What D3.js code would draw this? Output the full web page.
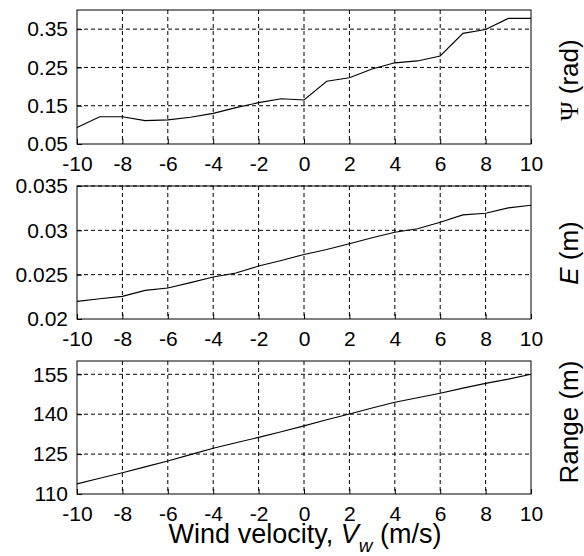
<!DOCTYPE html>
<html>
<head>
<meta charset="utf-8">
<script src="https://cdn.jsdelivr.net/npm/d3@7"></script>
<style>
  html, body { margin: 0; padding: 0; background: #fff; }
  svg { display: block; }
  text { font-family: "Liberation Sans", Arial, sans-serif; fill: #000; }
</style>
</head>
<body>
<svg id="chart" width="584" height="556"></svg>
<script>
// ---- data ----
const windVelocity = [-10,-9,-8,-7,-6,-5,-4,-3,-2,-1,0,1,2,3,4,5,6,7,8,9,10];
const psiValues = [0.093,0.121,0.121,0.111,0.113,0.120,0.130,0.145,0.158,0.168,0.165,0.214,0.223,0.246,0.262,0.267,0.280,0.339,0.349,0.378,0.378];
const eValues = [0.02199,0.02229,0.02255,0.02323,0.02349,0.02410,0.02473,0.02518,0.02597,0.02660,0.02728,0.02784,0.02848,0.02916,0.02979,0.03017,0.03091,0.03174,0.03193,0.03253,0.03283];
const rangeValues = [113.8,115.9,118.0,120.2,122.4,124.8,127.2,129.3,131.3,133.4,135.6,137.9,140.1,142.3,144.5,146.2,147.9,149.8,151.6,153.2,155.0];
const xTicks = [-10,-8,-6,-4,-2,0,2,4,6,8,10];
const psiTicks = [0.05,0.15,0.25,0.35];
const psiTickLabels = ["0.05","0.15","0.25","0.35"];
const eTicks = [0.02,0.025,0.03,0.035];
const eTickLabels = ["0.02","0.025","0.03","0.035"];
const rangeTicks = [110,125,140,155];
const rangeTickLabels = ["110","125","140","155"];

const svg = d3.select("#chart");
const left = 77, right = 531;
const x = d3.scaleLinear().domain([-10,10]).range([left,right]);

const panels = [
  {values: psiValues, domain:[0.05,0.40], top:10, bottom:144, ticks:psiTicks, labels:psiTickLabels, title:"psi", cy:80},
  {values: eValues, domain:[0.02,0.035], top:186, bottom:319, ticks:eTicks, labels:eTickLabels, title:"E", cy:253},
  {values: rangeValues, domain:[110,160], top:361, bottom:494, ticks:rangeTicks, labels:rangeTickLabels, title:"Range", cy:422}
];

panels.forEach(p => {
  const y = d3.scaleLinear().domain(p.domain).range([p.bottom, p.top]);
  const g = svg.append("g");

  // grid
  g.selectAll(".vg").data(xTicks.slice(1,-1)).enter().append("line")
    .attr("x1", d => x(d)).attr("x2", d => x(d))
    .attr("y1", p.top).attr("y2", p.bottom)
    .attr("stroke","#000").attr("stroke-width",1).attr("stroke-dasharray","4,3");
  g.selectAll(".hg").data(p.ticks.slice(1)).enter().append("line")
    .attr("x1", left).attr("x2", right)
    .attr("y1", d => y(d)).attr("y2", d => y(d))
    .attr("stroke","#000").attr("stroke-width",1).attr("stroke-dasharray","4,3");

  // axes
  const ax = g.append("g").attr("transform",`translate(0,${p.bottom})`)
    .call(d3.axisBottom(x).tickValues(xTicks).tickSize(-5).tickPadding(12).tickFormat(d => d3.format("d")(d).replace("−","-")));
  const ay = g.append("g").attr("transform",`translate(${left},0)`)
    .call(d3.axisLeft(y).tickValues(p.ticks).tickSize(-5).tickPadding(9).tickFormat((d,i) => p.labels[i]));
  [ax, ay].forEach(a => {
    a.select(".domain").remove();
    a.selectAll("line").attr("stroke","#000");
    a.selectAll("text").attr("font-size",21).attr("font-family",'"Liberation Sans", Arial, sans-serif').attr("fill","#000");
  });

  // box
  g.append("rect").attr("x",left).attr("y",p.top).attr("width",right-left).attr("height",p.bottom-p.top)
    .attr("fill","none").attr("stroke","#000").attr("stroke-width",1);

  // line
  const line = d3.line().x((d,i) => x(windVelocity[i])).y(d => y(d));
  g.append("path").datum(p.values).attr("d", line)
    .attr("fill","none").attr("stroke","#000").attr("stroke-width",1.1);

  // right label
  const t = svg.append("text")
    .attr("transform",`translate(578,${p.cy}) rotate(-90)`)
    .attr("text-anchor","middle").attr("font-size",26);
  if (p.title === "psi") {
    t.append("tspan").attr("font-family",'"Liberation Serif", "Times New Roman", serif').text("Ψ");
    t.append("tspan").text(" (rad)");
  } else if (p.title === "E") {
    t.append("tspan").attr("font-style","italic").text("E");
    t.append("tspan").text(" (m)");
  } else {
    t.text("Range (m)");
  }
});

// bottom label
const xl = svg.append("text").attr("x",305).attr("y",543).attr("text-anchor","middle").attr("font-size",27);
xl.append("tspan").text("Wind velocity, ");
xl.append("tspan").attr("font-style","italic").text("V");
xl.append("tspan").attr("font-style","italic").attr("font-size",19).attr("dy",9).text("w");
xl.append("tspan").attr("dy",-9).text(" (m/s)");
</script>
</body>
</html>
